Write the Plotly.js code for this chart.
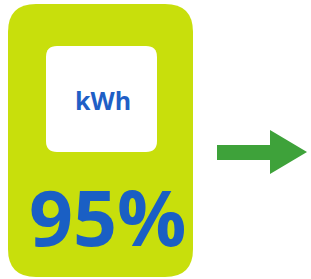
<!DOCTYPE html>
<html><head><meta charset="utf-8">
<script src="https://cdn.plot.ly/plotly-3.0.1.min.js"></script>
<style>html,body{margin:0;padding:0;background:#fff;}#c{width:311px;height:279px;}</style>
</head><body><div id="c"></div>
<script>
const unitLabel = ["kWh"];
const shareValues = [95];
const shareLabels = shareValues.map(v => v + "%");

function rr(x0, y0, x1, y1, r) {
  return `M${x0+r},${y0} L${x1-r},${y0} Q${x1},${y0} ${x1},${y0+r} L${x1},${y1-r} Q${x1},${y1} ${x1-r},${y1} L${x0+r},${y1} Q${x0},${y1} ${x0},${y1-r} L${x0},${y0+r} Q${x0},${y0} ${x0+r},${y0} Z`;
}

const shapes = [
  {type:'path', xref:'x', yref:'y', path: rr(8,4,193,277,28), fillcolor:'#c8df0c', line:{width:0}, layer:'below'},
  {type:'path', xref:'x', yref:'y', path: rr(46,46,157,152,11), fillcolor:'#ffffff', line:{width:0}, layer:'below'},
  {type:'path', xref:'x', yref:'y', path: 'M217,145 L270,145 L270,130 L307,152 L270,174 L270,160 L217,160 Z', fillcolor:'#3ea23a', line:{width:0}}
];

const annotations = [
  {x:103, y:100, xref:'x', yref:'y', text: unitLabel[0], showarrow:false,
   font:{family:'Open Sans, sans-serif', size:25, color:'#1f5fc6', weight:700}},
  {x:107, y:216, xref:'x', yref:'y', text: shareLabels[0], showarrow:false,
   font:{family:'Open Sans, sans-serif', size:77, color:'#1a5fc4', weight:700}}
];

Plotly.newPlot('c', [], {
  width:311, height:279, margin:{l:0,r:0,t:0,b:0},
  paper_bgcolor:'#fff', plot_bgcolor:'#fff',
  xaxis:{range:[0,311], visible:false, fixedrange:true},
  yaxis:{range:[279,0], visible:false, fixedrange:true},
  shapes, annotations, showlegend:false
}, {staticPlot:true, displayModeBar:false});
</script></body></html>
